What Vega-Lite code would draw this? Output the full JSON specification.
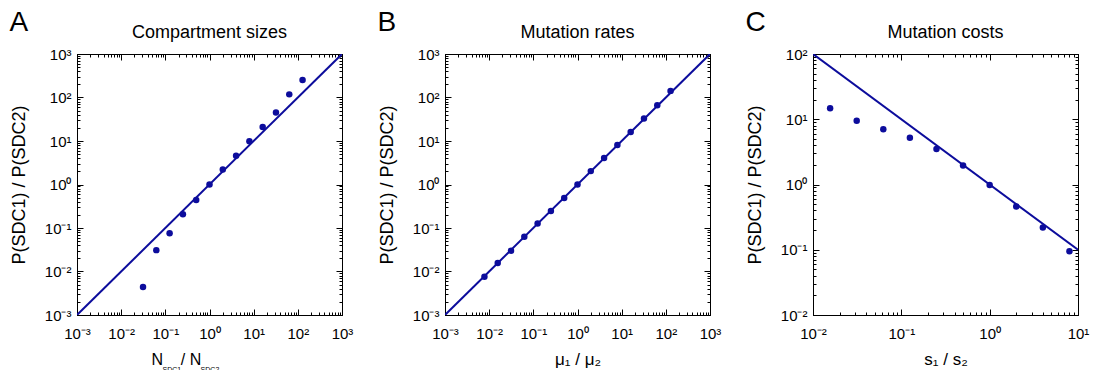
{
  "$schema": "https://vega.github.io/schema/vega-lite/v6.json",
  "padding": {"left": 9, "top": 8, "right": 5, "bottom": 0},
  "background": "white",
  "datasets": {
    "lineA": [{"x": 0.001, "y": 0.001}, {"x": 1000, "y": 1000}],
    "ptsA": [
      {"x": 0.03125, "y": 0.0044}, {"x": 0.0625, "y": 0.031}, {"x": 0.125, "y": 0.076},
      {"x": 0.25, "y": 0.207}, {"x": 0.5, "y": 0.44}, {"x": 1, "y": 1.0}, {"x": 2, "y": 2.2},
      {"x": 4, "y": 4.6}, {"x": 8, "y": 9.9}, {"x": 16, "y": 21}, {"x": 32, "y": 45},
      {"x": 64, "y": 118}, {"x": 128, "y": 251}
    ],
    "lineB": [{"x": 0.001, "y": 0.001}, {"x": 1000, "y": 1000}],
    "ptsB": [
      {"x": 0.0078125, "y": 0.0076}, {"x": 0.015625, "y": 0.0156}, {"x": 0.03125, "y": 0.030},
      {"x": 0.0625, "y": 0.063}, {"x": 0.125, "y": 0.127}, {"x": 0.25, "y": 0.245},
      {"x": 0.5, "y": 0.49}, {"x": 1, "y": 1.0}, {"x": 2, "y": 2.03}, {"x": 4, "y": 4.05},
      {"x": 8, "y": 8.1}, {"x": 16, "y": 16.1}, {"x": 32, "y": 33}, {"x": 64, "y": 66},
      {"x": 128, "y": 142}
    ],
    "lineC": [{"x": 0.01, "y": 100}, {"x": 10, "y": 0.1}],
    "ptsC": [
      {"x": 0.015625, "y": 14.7}, {"x": 0.03125, "y": 9.5}, {"x": 0.0625, "y": 7.0},
      {"x": 0.125, "y": 5.2}, {"x": 0.25, "y": 3.5}, {"x": 0.5, "y": 1.95}, {"x": 1, "y": 0.98},
      {"x": 2, "y": 0.46}, {"x": 4, "y": 0.22}, {"x": 8, "y": 0.095}
    ]
  },
  "hconcat": [
    {
      "title": {"text": "A", "anchor": "start", "fontSize": 28, "baseline": "alphabetic", "offset": -35, "frame": "bounds"},
      "hconcat": [
        {
          "width": 265, "height": 261,
          "title": {"text": "Compartment sizes", "baseline": "alphabetic", "offset": -9},
          "layer": [
            {
              "data": {"name": "lineA"},
              "mark": {"type": "line", "color": "#0c0c9c", "strokeWidth": 2, "clip": true},
              "encoding": {
                "x": {"field": "x", "type": "quantitative", "scale": {"type": "log", "domain": [0.001, 1000], "nice": false},
                  "axis": {"orient": "bottom", "values": [0.001,0.002,0.003,0.004,0.005,0.006,0.007,0.008,0.009,0.01,0.02,0.03,0.04,0.05,0.06,0.07,0.08,0.09,0.1,0.2,0.3,0.4,0.5,0.6,0.7,0.8,0.9,1,2,3,4,5,6,7,8,9,10,20,30,40,50,60,70,80,90,100,200,300,400,500,600,700,800,900,1000],
                    "labelExpr": "abs(log(datum.value)/LN10 - round(log(datum.value)/LN10)) < 0.001 ? '10' + replace(replace(replace(replace(replace('' + round(log(datum.value)/LN10), '-', '⁻'), '0', '⁰'), '1', '¹'), '2', '²'), '3', '³') : ''",
                    "tickSize": {"condition": {"test": "abs(log(datum.value)/LN10 - round(log(datum.value)/LN10)) < 0.001", "value": -6}, "value": -3},
                    "labelPadding": 17,
                    "title": "N\u00a0\u00a0\u00a0\u00a0/ N", "titleX": 74, "titleY": 49, "titleAlign": "left", "titleBaseline": "alphabetic", "titleAnchor": "start", "titleFontSize": 16}},
                "y": {"field": "y", "type": "quantitative", "scale": {"type": "log", "domain": [0.001, 1000], "nice": false},
                  "axis": {"orient": "left", "values": [0.001,0.002,0.003,0.004,0.005,0.006,0.007,0.008,0.009,0.01,0.02,0.03,0.04,0.05,0.06,0.07,0.08,0.09,0.1,0.2,0.3,0.4,0.5,0.6,0.7,0.8,0.9,1,2,3,4,5,6,7,8,9,10,20,30,40,50,60,70,80,90,100,200,300,400,500,600,700,800,900,1000],
                    "labelExpr": "abs(log(datum.value)/LN10 - round(log(datum.value)/LN10)) < 0.001 ? '10' + replace(replace(replace(replace(replace('' + round(log(datum.value)/LN10), '-', '⁻'), '0', '⁰'), '1', '¹'), '2', '²'), '3', '³') : ''",
                    "tickSize": {"condition": {"test": "abs(log(datum.value)/LN10 - round(log(datum.value)/LN10)) < 0.001", "value": -6}, "value": -3},
                    "labelPadding": 12,
                    "title": "P(SDC1) / P(SDC2)", "titleX": -53, "titleBaseline": "alphabetic", "titleFontSize": 18}}
              }
            },
            {
              "data": {"name": "ptsA"},
              "mark": {"type": "circle", "color": "#0c0c9c", "size": 42, "opacity": 1},
              "encoding": {
                "x": {"field": "x", "type": "quantitative", "scale": {"type": "log", "domain": [0.001, 1000], "nice": false},
                  "axis": {"orient": "top", "values": [0.001,0.002,0.003,0.004,0.005,0.006,0.007,0.008,0.009,0.01,0.02,0.03,0.04,0.05,0.06,0.07,0.08,0.09,0.1,0.2,0.3,0.4,0.5,0.6,0.7,0.8,0.9,1,2,3,4,5,6,7,8,9,10,20,30,40,50,60,70,80,90,100,200,300,400,500,600,700,800,900,1000],
                    "labels": false, "title": null,
                    "tickSize": {"condition": {"test": "abs(log(datum.value)/LN10 - round(log(datum.value)/LN10)) < 0.001", "value": -6}, "value": -3}}},
                "y": {"field": "y", "type": "quantitative", "scale": {"type": "log", "domain": [0.001, 1000], "nice": false},
                  "axis": {"orient": "right", "values": [0.001,0.002,0.003,0.004,0.005,0.006,0.007,0.008,0.009,0.01,0.02,0.03,0.04,0.05,0.06,0.07,0.08,0.09,0.1,0.2,0.3,0.4,0.5,0.6,0.7,0.8,0.9,1,2,3,4,5,6,7,8,9,10,20,30,40,50,60,70,80,90,100,200,300,400,500,600,700,800,900,1000],
                    "labels": false, "title": null,
                    "tickSize": {"condition": {"test": "abs(log(datum.value)/LN10 - round(log(datum.value)/LN10)) < 0.001", "value": -6}, "value": -3}}}
              }
            },
            {
              "data": {"name": "ptsA"},
              "mark": {"type": "circle", "opacity": 0},
              "encoding": {
                "x": {"field": "x", "type": "quantitative", "scale": {"type": "log", "domain": [0.001, 1000], "nice": false},
                  "axis": {"orient": "bottom", "labels": false, "ticks": false, "domain": false, "title": "SDC1\u00a0\u00a0\u00a0\u00a0\u00a0\u00a0\u00a0\u00a0\u00a0\u00a0SDC2", "titleFontSize": 7, "titleX": 85, "titleY": 56, "titleAlign": "left", "titleBaseline": "alphabetic", "titleAnchor": "start"}},
                "y": {"field": "y", "type": "quantitative", "scale": {"type": "log", "domain": [0.001, 1000], "nice": false}, "axis": null}
              }
            }
          ],
          "resolve": {"axis": {"x": "independent", "y": "independent"}}
        }
      ]
    },
    {
      "title": {"text": "B", "anchor": "start", "fontSize": 28, "baseline": "alphabetic", "offset": -35, "frame": "bounds"},
      "hconcat": [
        {
          "width": 265, "height": 261,
          "title": {"text": "Mutation rates", "baseline": "alphabetic", "offset": -9},
          "layer": [
            {
              "data": {"name": "lineB"},
              "mark": {"type": "line", "color": "#0c0c9c", "strokeWidth": 2, "clip": true},
              "encoding": {
                "x": {"field": "x", "type": "quantitative", "scale": {"type": "log", "domain": [0.001, 1000], "nice": false},
                  "axis": {"orient": "bottom", "values": [0.001,0.002,0.003,0.004,0.005,0.006,0.007,0.008,0.009,0.01,0.02,0.03,0.04,0.05,0.06,0.07,0.08,0.09,0.1,0.2,0.3,0.4,0.5,0.6,0.7,0.8,0.9,1,2,3,4,5,6,7,8,9,10,20,30,40,50,60,70,80,90,100,200,300,400,500,600,700,800,900,1000],
                    "labelExpr": "abs(log(datum.value)/LN10 - round(log(datum.value)/LN10)) < 0.001 ? '10' + replace(replace(replace(replace(replace('' + round(log(datum.value)/LN10), '-', '⁻'), '0', '⁰'), '1', '¹'), '2', '²'), '3', '³') : ''",
                    "tickSize": {"condition": {"test": "abs(log(datum.value)/LN10 - round(log(datum.value)/LN10)) < 0.001", "value": -6}, "value": -3},
                    "labelPadding": 17,
                    "title": "μ₁ / μ₂", "titleY": 49, "titleBaseline": "alphabetic", "titleFontSize": 17}},
                "y": {"field": "y", "type": "quantitative", "scale": {"type": "log", "domain": [0.001, 1000], "nice": false},
                  "axis": {"orient": "left", "values": [0.001,0.002,0.003,0.004,0.005,0.006,0.007,0.008,0.009,0.01,0.02,0.03,0.04,0.05,0.06,0.07,0.08,0.09,0.1,0.2,0.3,0.4,0.5,0.6,0.7,0.8,0.9,1,2,3,4,5,6,7,8,9,10,20,30,40,50,60,70,80,90,100,200,300,400,500,600,700,800,900,1000],
                    "labelExpr": "abs(log(datum.value)/LN10 - round(log(datum.value)/LN10)) < 0.001 ? '10' + replace(replace(replace(replace(replace('' + round(log(datum.value)/LN10), '-', '⁻'), '0', '⁰'), '1', '¹'), '2', '²'), '3', '³') : ''",
                    "tickSize": {"condition": {"test": "abs(log(datum.value)/LN10 - round(log(datum.value)/LN10)) < 0.001", "value": -6}, "value": -3},
                    "labelPadding": 12,
                    "title": "P(SDC1) / P(SDC2)", "titleX": -53, "titleBaseline": "alphabetic", "titleFontSize": 18}}
              }
            },
            {
              "data": {"name": "ptsB"},
              "mark": {"type": "circle", "color": "#0c0c9c", "size": 42, "opacity": 1},
              "encoding": {
                "x": {"field": "x", "type": "quantitative", "scale": {"type": "log", "domain": [0.001, 1000], "nice": false},
                  "axis": {"orient": "top", "values": [0.001,0.002,0.003,0.004,0.005,0.006,0.007,0.008,0.009,0.01,0.02,0.03,0.04,0.05,0.06,0.07,0.08,0.09,0.1,0.2,0.3,0.4,0.5,0.6,0.7,0.8,0.9,1,2,3,4,5,6,7,8,9,10,20,30,40,50,60,70,80,90,100,200,300,400,500,600,700,800,900,1000],
                    "labels": false, "title": null,
                    "tickSize": {"condition": {"test": "abs(log(datum.value)/LN10 - round(log(datum.value)/LN10)) < 0.001", "value": -6}, "value": -3}}},
                "y": {"field": "y", "type": "quantitative", "scale": {"type": "log", "domain": [0.001, 1000], "nice": false},
                  "axis": {"orient": "right", "values": [0.001,0.002,0.003,0.004,0.005,0.006,0.007,0.008,0.009,0.01,0.02,0.03,0.04,0.05,0.06,0.07,0.08,0.09,0.1,0.2,0.3,0.4,0.5,0.6,0.7,0.8,0.9,1,2,3,4,5,6,7,8,9,10,20,30,40,50,60,70,80,90,100,200,300,400,500,600,700,800,900,1000],
                    "labels": false, "title": null,
                    "tickSize": {"condition": {"test": "abs(log(datum.value)/LN10 - round(log(datum.value)/LN10)) < 0.001", "value": -6}, "value": -3}}}
              }
            }
          ],
          "resolve": {"axis": {"x": "independent", "y": "independent"}}
        }
      ]
    },
    {
      "title": {"text": "C", "anchor": "start", "fontSize": 28, "baseline": "alphabetic", "offset": -35, "frame": "bounds"},
      "hconcat": [
        {
          "width": 265, "height": 261,
          "title": {"text": "Mutation costs", "baseline": "alphabetic", "offset": -9},
          "layer": [
            {
              "data": {"name": "lineC"},
              "mark": {"type": "line", "color": "#0c0c9c", "strokeWidth": 2, "clip": true},
              "encoding": {
                "x": {"field": "x", "type": "quantitative", "scale": {"type": "log", "domain": [0.01, 10], "nice": false},
                  "axis": {"orient": "bottom", "values": [0.01,0.02,0.03,0.04,0.05,0.06,0.07,0.08,0.09,0.1,0.2,0.3,0.4,0.5,0.6,0.7,0.8,0.9,1,2,3,4,5,6,7,8,9,10],
                    "labelExpr": "abs(log(datum.value)/LN10 - round(log(datum.value)/LN10)) < 0.001 ? '10' + replace(replace(replace(replace(replace('' + round(log(datum.value)/LN10), '-', '⁻'), '0', '⁰'), '1', '¹'), '2', '²'), '3', '³') : ''",
                    "tickSize": {"condition": {"test": "abs(log(datum.value)/LN10 - round(log(datum.value)/LN10)) < 0.001", "value": -6}, "value": -3},
                    "labelPadding": 17,
                    "title": "s₁ / s₂", "titleY": 49, "titleBaseline": "alphabetic", "titleFontSize": 17}},
                "y": {"field": "y", "type": "quantitative", "scale": {"type": "log", "domain": [0.01, 100], "nice": false},
                  "axis": {"orient": "left", "values": [0.01,0.02,0.03,0.04,0.05,0.06,0.07,0.08,0.09,0.1,0.2,0.3,0.4,0.5,0.6,0.7,0.8,0.9,1,2,3,4,5,6,7,8,9,10,20,30,40,50,60,70,80,90,100],
                    "labelExpr": "abs(log(datum.value)/LN10 - round(log(datum.value)/LN10)) < 0.001 ? '10' + replace(replace(replace(replace(replace('' + round(log(datum.value)/LN10), '-', '⁻'), '0', '⁰'), '1', '¹'), '2', '²'), '3', '³') : ''",
                    "tickSize": {"condition": {"test": "abs(log(datum.value)/LN10 - round(log(datum.value)/LN10)) < 0.001", "value": -6}, "value": -3},
                    "labelPadding": 12,
                    "title": "P(SDC1) / P(SDC2)", "titleX": -53, "titleBaseline": "alphabetic", "titleFontSize": 18}}
              }
            },
            {
              "data": {"name": "ptsC"},
              "mark": {"type": "circle", "color": "#0c0c9c", "size": 42, "opacity": 1},
              "encoding": {
                "x": {"field": "x", "type": "quantitative", "scale": {"type": "log", "domain": [0.01, 10], "nice": false},
                  "axis": {"orient": "top", "values": [0.01,0.02,0.03,0.04,0.05,0.06,0.07,0.08,0.09,0.1,0.2,0.3,0.4,0.5,0.6,0.7,0.8,0.9,1,2,3,4,5,6,7,8,9,10],
                    "labels": false, "title": null,
                    "tickSize": {"condition": {"test": "abs(log(datum.value)/LN10 - round(log(datum.value)/LN10)) < 0.001", "value": -6}, "value": -3}}},
                "y": {"field": "y", "type": "quantitative", "scale": {"type": "log", "domain": [0.01, 100], "nice": false},
                  "axis": {"orient": "right", "values": [0.01,0.02,0.03,0.04,0.05,0.06,0.07,0.08,0.09,0.1,0.2,0.3,0.4,0.5,0.6,0.7,0.8,0.9,1,2,3,4,5,6,7,8,9,10,20,30,40,50,60,70,80,90,100],
                    "labels": false, "title": null,
                    "tickSize": {"condition": {"test": "abs(log(datum.value)/LN10 - round(log(datum.value)/LN10)) < 0.001", "value": -6}, "value": -3}}}
              }
            }
          ],
          "resolve": {"axis": {"x": "independent", "y": "independent"}}
        }
      ]
    }
  ],
  "spacing": 23,
  "config": {
    "font": "Liberation Sans",
    "view": {"stroke": "black", "strokeWidth": 1},
    "axis": {"domainColor": "black", "domainWidth": 1, "tickColor": "black", "tickWidth": 1,
      "labelFont": "Liberation Sans", "labelFontSize": 15, "labelColor": "black",
      "titleFont": "Liberation Sans", "titleFontSize": 15, "titleFontWeight": "normal", "titleColor": "black",
      "grid": false, "labelOverlap": false, "labelFlush": false, "labelBound": false},
    "title": {"font": "Liberation Sans", "fontSize": 18, "fontWeight": "normal", "color": "black"}
  }
}
